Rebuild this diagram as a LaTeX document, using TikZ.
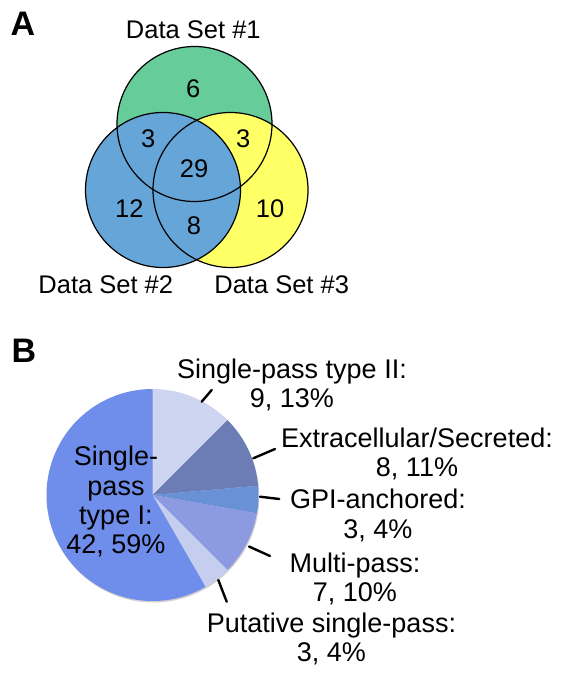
\documentclass[tikz,border=0pt]{standalone}
\usepackage{fontspec}
\setmainfont{Liberation Sans}
\definecolor{setone}{HTML}{66CC99}
\definecolor{settwo}{HTML}{66A5D8}
\definecolor{setthree}{HTML}{FFFF66}
\definecolor{typetwo}{HTML}{CDD5F0}
\definecolor{extrasec}{HTML}{6C7CB4}
\definecolor{gpianch}{HTML}{6991D6}
\definecolor{multipass}{HTML}{8C9BE1}
\definecolor{putative}{HTML}{C6CEEF}
\definecolor{typeone}{HTML}{6F8DEA}
\begin{document}
\begin{tikzpicture}[x=1pt,y=-1pt,line cap=round,
	lbl/.style={font=\fontsize{27}{29.3}\selectfont,align=center,anchor=base,inner sep=0pt},
	num/.style={font=\fontsize{25.5}{28}\selectfont,anchor=base,inner sep=0pt},
	tag/.style={font=\fontsize{34}{36}\selectfont\bfseries,anchor=base,inner sep=0pt},
	lead/.style={line width=2.4pt}]
		\useasboundingbox (0,0) rectangle (565,676);
		\node[tag] (taga) at (23,35.2) {A};
		\node[tag] (tagb) at (23.8,362.7) {B};
		\coordinate (c1) at (194.5,124);
		\coordinate (c2) at (163,190);
		\coordinate (c3) at (230.5,190);
		\fill[setone] (c1) circle (77.5);
		\fill[setthree] (c3) circle (77.5);
		\fill[settwo] (c2) circle (77.5);
		\draw[line width=1.2pt] (c1) circle (77.5);
		\draw[line width=1.2pt] (c2) circle (77.5);
		\draw[line width=1.2pt] (c3) circle (77.5);
		\node[num] (set1) at (193.3,38.1) {Data Set \#1};
		\node[num] (set2) at (105.8,293) {Data Set \#2};
		\node[num] (set3) at (281.7,293) {Data Set \#3};
		\node[num] (only1) at (193.3,97.4) {6};
		\node[num] (onetwo) at (148.3,147.4) {3};
		\node[num] (onethree) at (243.3,147.3) {3};
		\node[num] (all) at (194,177.4) {29};
		\node[num] (only2) at (129.3,217.4) {12};
		\node[num] (only3) at (270,217.2) {10};
		\node[num] (twothree) at (194,234.8) {8};
		\coordinate (pc) at (152.5,495);
		\coordinate (ps) at (153.3,496.5);
		\fill[black!18] (ps) circle (106);
		\fill[typetwo] (pc) -- ++(-90:106) arc (-90:-45:106) -- cycle;
		\fill[extrasec] (pc) -- ++(-45:106) arc (-45:-5:106) -- cycle;
		\fill[gpianch] (pc) -- ++(-5:106) arc (-5:10:106) -- cycle;
		\fill[multipass] (pc) -- ++(10:106) arc (10:45:106) -- cycle;
		\fill[putative] (pc) -- ++(45:106) arc (45:60:106) -- cycle;
		\fill[typeone] (pc) -- ++(60:106) arc (60:270:106) -- cycle;
		\node[lbl] (typeI) at (116,553.6) {Single-\\pass\\type I:\\42, 59\%};
		\node[lbl] (typeII) at (292,407.3) {Single-pass type II:\\9, 13\%};
		\node[lbl] (extra) at (417,476.6) {Extracellular/Secreted:\\8, 11\%};
		\node[lbl] (gpi) at (378,538) {GPI-anchored:\\3, 4\%};
		\node[lbl] (multi) at (355,601.5) {Multi-pass:\\7, 10\%};
		\node[lbl] (puta) at (331.5,661.5) {Putative single-pass:\\3, 4\%};
		\coordinate (l2a) at (201.7,401.7);
		\coordinate (l2b) at (211.7,390);
		\coordinate (lea) at (253.3,458.3);
		\coordinate (leb) at (275,449);
		\coordinate (lga) at (260,496.7);
		\coordinate (lgb) at (279.3,499);
		\coordinate (lma) at (249,546.5);
		\coordinate (lmb) at (270,556);
		\coordinate (lpa) at (218.3,580);
		\coordinate (lpb) at (226.7,601.7);
		\draw[lead] (l2a) -- (l2b);
		\draw[lead] (lea) -- (leb);
		\draw[lead] (lga) -- (lgb);
		\draw[lead] (lma) -- (lmb);
		\draw[lead] (lpa) -- (lpb);
	\end{tikzpicture}
\end{document}
